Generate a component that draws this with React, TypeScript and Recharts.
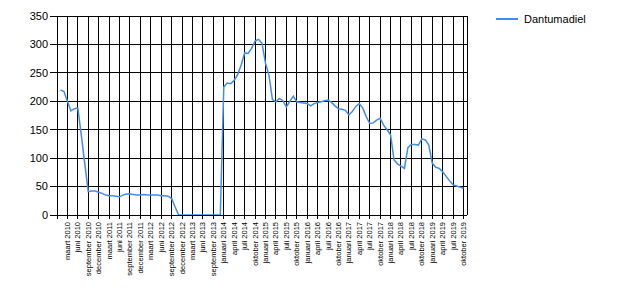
import { CartesianGrid, Legend, Line, LineChart, XAxis, YAxis } from 'recharts'

const FONT = '"Liberation Sans", Arial, sans-serif'
const LINE_COLOR = '#418CF0'

// one label every third month, the chart skips a month at the end of 2013
const tickLabels = [
  'maart 2010', 'juni 2010', 'september 2010', 'december 2010',
  'maart 2011', 'juni 2011', 'september 2011', 'december 2011',
  'maart 2012', 'juni 2012', 'september 2012', 'december 2012',
  'maart 2013', 'juni 2013', 'september 2013',
  'januari 2014', 'april 2014', 'juli 2014', 'oktober 2014',
  'januari 2015', 'april 2015', 'juli 2015', 'oktober 2015',
  'januari 2016', 'april 2016', 'juli 2016', 'oktober 2016',
  'januari 2017', 'april 2017', 'juli 2017', 'oktober 2017',
  'januari 2018', 'april 2018', 'juli 2018', 'oktober 2018',
  'januari 2019', 'april 2019', 'juli 2019', 'oktober 2019',
]

const seriesName = 'Dantumadiel'

// monthly values, januari 2010 .. oktober 2019
const dantumadiel = [
  220, 217, 200, 183, 187, 188, 140, 90, 41, 42, 42, 40,
  38, 35, 34, 34, 33, 32, 35, 37, 37, 36, 35, 35,
  36, 35, 35, 35, 35, 34, 34, 33, 29, 14, 0, 0,
  0, 0, 0, 0, 0, 0, 0, 0, 0, 0, 0,
  225, 232, 231, 237, 247, 264, 285, 284, 293, 306, 309, 302,
  267, 246, 203, 199, 205, 201, 190, 200, 209, 199, 198, 197,
  196, 192, 196, 198, 199, 201, 202, 198, 192, 187, 186, 184,
  176, 182, 191, 196, 188, 173, 161, 162, 167, 170, 158, 150,
  141, 97, 90, 86, 82, 119, 124, 124, 123, 134, 132, 123,
  91, 84, 82, 76, 68, 60, 53, 51, 49, 47,
]

const yTicks = [0, 50, 100, 150, 200, 250, 300, 350]

const data = dantumadiel.map((value, i) => ({ pos: i + 1, value }))
const xTicks = [0, ...tickLabels.map((_, i) => (i + 1) * 3)]

const XTick = ({ x, y, payload }: any) => {
  const label = payload.value === 0 ? '' : tickLabels[payload.value / 3 - 1]
  return (
    <text
      x={x}
      y={y}
      transform={`rotate(-90, ${x}, ${y})`}
      textAnchor="end"
      dominantBaseline="central"
      fontSize={7.5}
      fontFamily={FONT}
      fill="#000"
    >
      {label}
    </text>
  )
}

const LegendContent = () => (
  <div style={{ display: 'flex', alignItems: 'center', fontFamily: FONT, fontSize: 11, color: '#000' }}>
    <svg width={22} height={4}>
      <line x1={0} y1={2} x2={22} y2={2} stroke={LINE_COLOR} strokeWidth={2} />
    </svg>
    <span style={{ marginLeft: 6 }}>{seriesName}</span>
  </div>
)

export default function App() {
  return (
    <div style={{ position: 'absolute', left: 0, top: 0, background: '#fff' }}>
      <LineChart
        width={620}
        height={300}
        data={data}
        margin={{ top: 16, right: 153, bottom: 0, left: 7 }}
      >
        <CartesianGrid stroke="#000" strokeWidth={1} shapeRendering="crispEdges" />
        <XAxis
          type="number"
          dataKey="pos"
          domain={[0, 118]}
          ticks={xTicks}
          interval={0}
          height={85}
          stroke="#000"
          shapeRendering="crispEdges"
          tickSize={4}
          tickMargin={3}
          tick={(props: any) => <XTick {...props} />}
        />
        <YAxis
          domain={[0, 350]}
          ticks={yTicks}
          width={50}
          stroke="#000"
          shapeRendering="crispEdges"
          tickSize={7}
          tickMargin={2}
          tick={{ fill: '#000', fontSize: 11, fontFamily: FONT }}
        />
        <Legend
          layout="horizontal"
          align="center"
          verticalAlign="middle"
          content={<LegendContent />}
          wrapperStyle={{ left: 496, top: 13, width: 'auto' }}
        />
        <Line
          type="linear"
          dataKey="value"
          name={seriesName}
          stroke={LINE_COLOR}
          strokeWidth={1.5}
          dot={false}
          isAnimationActive={false}
        />
      </LineChart>
    </div>
  )
}
